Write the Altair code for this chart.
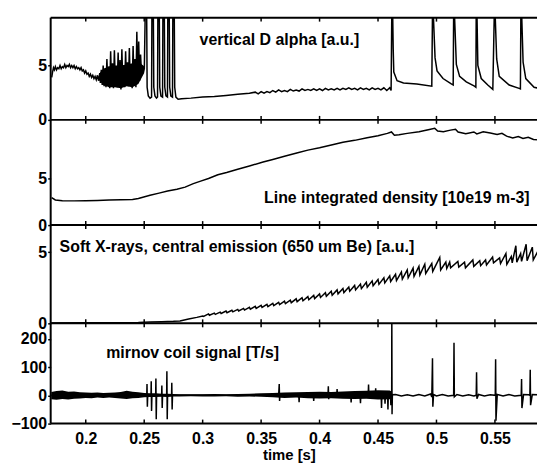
import altair as alt
import pandas as pd

FONT = "Liberation Sans"
x_ticks = [0.2, 0.25, 0.3, 0.35, 0.4, 0.45, 0.5, 0.55]
X_DOMAIN = [0.170, 0.586]
W = 490

# ---------------- vertical D alpha [a.u.] ----------------
dalpha_t = [
    0.1709, 0.1716, 0.1724, 0.1732, 0.1740, 0.1750, 0.1760, 0.1770, 0.1780, 0.1790,
    0.1800, 0.1810, 0.1820, 0.1830, 0.1840, 0.1850, 0.1860, 0.1870, 0.1880, 0.1890,
    0.1900, 0.1910, 0.1920, 0.1930, 0.1940, 0.1950, 0.1960, 0.1970, 0.1980, 0.1990,
    0.2000, 0.2010, 0.2020, 0.2030, 0.2040, 0.2050, 0.2060, 0.2070, 0.2080, 0.2090,
    0.2100, 0.2110, 0.2120,
    0.2125, 0.2133, 0.2141, 0.2149, 0.2157, 0.2165, 0.2173, 0.2181, 0.2189, 0.2197,
    0.2205, 0.2213, 0.2221, 0.2229, 0.2237, 0.2245, 0.2253, 0.2261, 0.2269, 0.2277,
    0.2285, 0.2293, 0.2301, 0.2309, 0.2317, 0.2325, 0.2333, 0.2341, 0.2349, 0.2357,
    0.2365, 0.2373, 0.2381, 0.2389, 0.2397, 0.2405, 0.2413, 0.2421, 0.2429, 0.2437,
    0.2445, 0.2453, 0.2461, 0.2469, 0.2477, 0.2485, 0.2493, 0.2501,
    0.2509, 0.2521, 0.2525, 0.2535, 0.2550, 0.2563,
    0.2566, 0.2578, 0.2582, 0.2592, 0.2605, 0.2614,
    0.2617, 0.2629, 0.2633, 0.2643, 0.2657,
    0.2660, 0.2672, 0.2676, 0.2686, 0.2699,
    0.2702, 0.2714, 0.2718, 0.2728, 0.2742,
    0.2745, 0.2757, 0.2761, 0.2771, 0.2790,
    0.2820, 0.2900, 0.3000, 0.3100, 0.3200, 0.3300, 0.3400, 0.3450, 0.3475, 0.3500,
    0.3525, 0.3550, 0.3575, 0.3600, 0.3625, 0.3650, 0.3675, 0.3700, 0.3725, 0.3750,
    0.3775, 0.3800, 0.3825, 0.3850, 0.3875, 0.3900, 0.3925, 0.3950, 0.3975, 0.4000,
    0.4025, 0.4050, 0.4075, 0.4100, 0.4125, 0.4150, 0.4175, 0.4200, 0.4225, 0.4250,
    0.4275, 0.4300, 0.4325, 0.4350, 0.4375, 0.4400, 0.4425, 0.4450, 0.4475, 0.4500,
    0.4525, 0.4550, 0.4575, 0.4600, 0.4612,
    0.4618, 0.4625, 0.4630, 0.4635, 0.4663, 0.4718, 0.4832, 0.4960,
    0.4966, 0.4972, 0.4988, 0.5005, 0.5056, 0.5127, 0.5143,
    0.5147, 0.5153, 0.5170, 0.5198, 0.5255, 0.5325, 0.5337,
    0.5340, 0.5346, 0.5354, 0.5383, 0.5439, 0.5482,
    0.5495, 0.5501, 0.5515, 0.5537, 0.5622, 0.5707, 0.5718,
    0.5722, 0.5728, 0.5741, 0.5764, 0.5835, 0.5877, 0.5888,
    0.5892, 0.5900,
]
dalpha_v = [
    3.9, 4.4, 4.8, 4.6, 4.9, 4.6, 4.8, 4.7, 5.0, 4.7,
    4.9, 4.8, 5.1, 4.8, 5.0, 4.9, 5.1, 4.8, 5.0, 4.8,
    5.0, 4.7, 4.9, 4.7, 4.8, 4.6, 4.8, 4.5, 4.6, 4.3,
    4.5, 4.2, 4.3, 4.0, 4.2, 3.9, 4.1, 3.8, 4.0, 3.7,
    4.1, 3.6, 4.3,
    3.4, 4.6, 3.2, 5.0, 3.1, 4.7, 3.0, 5.6, 3.3, 4.9,
    2.9, 6.3, 3.2, 5.2, 2.9, 6.4, 3.4, 4.8, 3.0, 6.2,
    3.2, 5.5, 2.8, 6.5, 3.3, 5.0, 3.0, 6.3, 3.4, 5.3,
    3.1, 6.6, 3.2, 5.1, 2.9, 6.8, 3.3, 5.6, 3.0, 8.1,
    3.4, 7.2, 3.6, 6.0, 4.2, 5.0, 4.4, 4.7,
    10, 10, 3.0, 2.2, 2.0, 2.1,
    10, 10, 3.0, 2.2, 2.0, 2.1,
    10, 10, 3.0, 2.2, 2.1,
    10, 10, 3.0, 2.2, 2.1,
    10, 10, 3.0, 2.2, 2.1,
    10, 10, 3.0, 2.1, 1.9,
    1.95, 2.0, 2.1, 2.15, 2.25, 2.35, 2.45, 2.55, 2.4, 2.6,
    2.45, 2.6, 2.5, 2.7, 2.55, 2.75, 2.6, 2.7, 2.6, 2.8,
    2.65, 2.75, 2.65, 2.85, 2.7, 2.8, 2.7, 2.85, 2.7, 2.85,
    2.7, 2.9, 2.75, 2.85, 2.75, 2.9, 2.75, 2.9, 2.8, 2.95,
    2.8, 2.9, 2.75, 2.95, 2.8, 2.9, 2.75, 2.95, 2.8, 2.9,
    2.75, 2.95, 2.7, 2.95, 2.7,
    10, 10, 6.5, 4.4, 3.6, 3.4, 3.3, 3.1,
    10, 10, 5.7, 4.5, 3.8, 3.3, 3.2,
    10, 10, 5.1, 4.0, 3.5, 3.1, 3.0,
    10, 10, 5.0, 3.8, 3.2, 2.8,
    10, 10, 5.6, 4.0, 3.2, 2.9, 2.85,
    10, 10, 5.3, 3.8, 3.0, 2.9, 2.85,
    10, 10,
]
# dense (unresolved) part of the D alpha trace: envelope
dalpha_band_t = [0.2120, 0.2150, 0.2200, 0.2250, 0.2300, 0.2350, 0.2400, 0.2450, 0.2500]
dalpha_band_lo = [3.6, 3.2, 3.0, 3.0, 2.9, 3.1, 3.0, 3.3, 4.3]
dalpha_band_hi = [4.3, 4.7, 4.9, 5.0, 5.0, 5.1, 5.2, 5.4, 4.9]

# ---------------- Line integrated density [10e19 m-3] ----------------
dens_t = [
    0.1708, 0.1740, 0.1800, 0.1900, 0.2000, 0.2100, 0.2200, 0.2300, 0.2400, 0.2450,
    0.2550, 0.2627, 0.2700, 0.2780, 0.2850, 0.2920, 0.2983, 0.3050, 0.3130, 0.3205,
    0.3300, 0.3400, 0.3517, 0.3600, 0.3700, 0.3813, 0.3900, 0.4000, 0.4110, 0.4200,
    0.4300, 0.4407, 0.4500, 0.4580, 0.4615, 0.4640, 0.4680, 0.4750, 0.4851, 0.4930,
    0.4985, 0.5010, 0.5059, 0.5120, 0.5163, 0.5185, 0.5251, 0.5320, 0.5345, 0.5400,
    0.5460, 0.5519, 0.5560, 0.5600, 0.5652, 0.5700, 0.5740, 0.5785, 0.5830, 0.5870,
]
dens_v = [
    2.95, 2.7, 2.62, 2.6, 2.62, 2.65, 2.7, 2.72, 2.75, 2.85,
    3.2, 3.43, 3.65, 3.85, 4.08, 4.45, 4.72, 5.0, 5.4, 5.65,
    6.0, 6.35, 6.77, 7.05, 7.4, 7.77, 8.05, 8.3, 8.63, 8.9,
    9.1, 9.37, 9.6, 9.85, 10.0, 9.65, 9.7, 9.85, 10.03, 10.25,
    10.4, 10.1, 10.03, 10.2, 10.3, 10.0, 9.8, 10.0, 9.8, 10.03,
    9.9, 9.73, 9.85, 9.55, 9.36, 9.5, 9.3, 9.44, 9.2, 9.15,
]

# ---------------- Soft X-rays, central emission ----------------
sxr_t = [
    0.1705, 0.2000, 0.2300, 0.2450, 0.2550, 0.2650, 0.2750, 0.2806, 0.2880, 0.2950, 0.3000,
    0.3008,
    0.3050, 0.3058, 0.3100, 0.3108, 0.3150, 0.3158, 0.3200, 0.3208, 0.3250, 0.3258,
    0.3300, 0.3308, 0.3350, 0.3358, 0.3400, 0.3408, 0.3450, 0.3458, 0.3500, 0.3508,
    0.3550, 0.3558, 0.3600, 0.3608, 0.3650, 0.3658, 0.3700, 0.3708, 0.3750, 0.3758,
    0.3800, 0.3808, 0.3850, 0.3858, 0.3900, 0.3908, 0.3950, 0.3958, 0.4000, 0.4008,
    0.4050, 0.4058, 0.4100, 0.4108, 0.4150, 0.4158, 0.4200, 0.4208, 0.4250, 0.4258,
    0.4300, 0.4308, 0.4350, 0.4358, 0.4400, 0.4408, 0.4450, 0.4458, 0.4500, 0.4508,
    0.4550, 0.4558, 0.4600, 0.4608, 0.4650, 0.4658, 0.4700, 0.4708, 0.4750, 0.4758,
    0.4800, 0.4808, 0.4850, 0.4858, 0.4900, 0.4908, 0.4960, 0.4968, 0.5028, 0.5036,
    0.5080, 0.5088, 0.5113, 0.5121, 0.5183, 0.5191, 0.5240, 0.5248, 0.5311, 0.5319,
    0.5370, 0.5378, 0.5420, 0.5428, 0.5480, 0.5488, 0.5540, 0.5548, 0.5594, 0.5602,
    0.5640, 0.5648, 0.5679, 0.5687, 0.5720, 0.5728, 0.5767, 0.5775, 0.5820, 0.5828,
    0.5870,
]
sxr_v = [
    0.03, 0.04, 0.05, 0.06, 0.1, 0.12, 0.14, 0.17, 0.3, 0.42, 0.52,
    0.48,
    0.66, 0.57, 0.72, 0.63, 0.79, 0.69, 0.86, 0.75, 0.92, 0.81,
    0.98, 0.87, 1.05, 0.93, 1.12, 0.99, 1.19, 1.05, 1.26, 1.12,
    1.33, 1.18, 1.41, 1.25, 1.48, 1.32, 1.56, 1.38, 1.63, 1.45,
    1.72, 1.52, 1.8, 1.59, 1.88, 1.66, 1.96, 1.74, 2.06, 1.82,
    2.15, 1.9, 2.25, 1.98, 2.35, 2.07, 2.45, 2.16, 2.55, 2.26,
    2.66, 2.35, 2.76, 2.44, 2.88, 2.54, 2.98, 2.64, 3.08, 2.74,
    3.2, 2.84, 3.33, 2.94, 3.45, 3.0, 3.6, 3.1, 3.75, 3.2,
    3.88, 3.3, 4.0, 3.4, 4.15, 3.5, 4.2, 3.65, 4.63, 3.75,
    4.3, 3.85, 4.3, 3.9, 4.35, 3.95, 4.3, 3.9, 4.45, 4.0,
    4.4, 4.05, 4.45, 4.1, 4.65, 4.25, 4.6, 4.2, 4.9, 4.15,
    4.7, 4.25, 5.45, 4.3, 4.9, 4.35, 5.55, 4.4, 5.35, 4.45,
    5.1,
]

# ---------------- mirnov coil signal [T/s] ----------------
# envelope of the unresolved fluctuation band
mirnov_band_t = [
    0.1705, 0.1750, 0.1800, 0.1850, 0.1900, 0.1950, 0.2000, 0.2050, 0.2100, 0.2150,
    0.2200, 0.2250, 0.2300, 0.2350, 0.2400, 0.2450, 0.2500, 0.2550, 0.2600, 0.2650,
    0.2700, 0.2750, 0.2800, 0.2900, 0.3000, 0.3100, 0.3200, 0.3300, 0.3400, 0.3500,
    0.3600, 0.3700, 0.3800, 0.3900, 0.4000, 0.4100, 0.4200, 0.4300, 0.4400, 0.4500,
    0.4600, 0.4615,
]
mirnov_band_lo = [
    -14, -16, -13, -15, -12, -11, -9, -10, -8, -9,
    -8, -9, -11, -13, -10, -9, -7, -6, -6, -5,
    -6, -4, -4, -3, -4, -4, -3, -5, -4, -5,
    -7, -9, -8, -10, -11, -10, -12, -13, -12, -15,
    -14, -12,
]
mirnov_band_hi = [
    12, 15, 17, 13, 14, 11, 10, 9, 10, 8,
    9, 10, 12, 16, 13, 11, 8, 7, 7, 6,
    6, 5, 4, 4, 4, 5, 4, 5, 6, 7,
    8, 10, 11, 12, 13, 12, 14, 15, 16, 18,
    17, 14,
]
# resolved spikes on top of the band
mirnov_t = [
    0.1705, 0.2000, 0.2500,
    0.2522, 0.2524, 0.2527, 0.2530,
    0.2558, 0.2560, 0.2563, 0.2566,
    0.2598, 0.2600, 0.2603, 0.2606,
    0.2649, 0.2651, 0.2654, 0.2657,
    0.2692, 0.2694, 0.2697, 0.2700,
    0.2734, 0.2736, 0.2739, 0.2742,
    0.3650, 0.3655, 0.3658, 0.3661,
    0.3822, 0.3825, 0.3828,
    0.3947, 0.3950, 0.3953,
    0.4072, 0.4075, 0.4078, 0.4081,
    0.4147, 0.4150, 0.4153,
    0.4267, 0.4270, 0.4273,
    0.4347, 0.4350, 0.4353,
    0.4416, 0.4419, 0.4422,
    0.4477, 0.4480, 0.4483,
    0.4527, 0.4530, 0.4533,
    0.4557, 0.4560, 0.4563,
    0.4582, 0.4585, 0.4588,
    0.4607, 0.4610, 0.4613,
    0.4617, 0.4618, 0.4620, 0.4623,
    0.4650, 0.4700, 0.4750, 0.4800, 0.4850, 0.4900, 0.4950, 0.4960,
    0.4966, 0.4969, 0.4975, 0.5000, 0.5050, 0.5100, 0.5147,
    0.5150, 0.5153, 0.5175, 0.5225, 0.5275, 0.5320, 0.5340,
    0.5343, 0.5346, 0.5360, 0.5410, 0.5460, 0.5503,
    0.5506, 0.5509, 0.5520, 0.5570, 0.5620, 0.5670, 0.5725,
    0.5728, 0.5731, 0.5745, 0.5790, 0.5799,
    0.5802, 0.5805, 0.5820, 0.5870,
]
mirnov_v = [
    0, 2, 0,
    0, 40, -40, 0,
    0, 50, -55, 0,
    0, 60, -85, 0,
    0, 35, -45, 0,
    0, 85, -85, 0,
    0, 45, -50, 0,
    0, 40, -20, 0,
    0, -24, 0,
    0, -20, 0,
    0, 32, -14, 0,
    0, 22, 0,
    0, -25, 0,
    0, -28, 0,
    0, 38, 0,
    0, 25, 0,
    0, -45, 0,
    0, -30, 0,
    0, -50, 0,
    0, -35, 0,
    0, 300, -67, 2,
    3, -2, 2, -2, 3, -2, 5, -6,
    131, -40, 3, -2, 3, -2, 0,
    186, -5, 3, -2, 2, -2, 0,
    82, -12, 3, -2, 2, 0,
    128, -90, 3, -2, 3, -2, 0,
    58, -45, 3, 2, 0,
    91, -35, 3, 2,
]


def panel(t, v, ydom, yvals, H, label, lx, ly, band=None, first=False, last=False):
    df = pd.DataFrame({"t": t, "v": v, "i": list(range(len(t)))})
    xscale = alt.Scale(domain=X_DOMAIN, nice=False, zero=False)
    yscale = alt.Scale(domain=ydom, nice=False, zero=False)
    if last:
        xaxis = alt.Axis(values=x_ticks, format="~g", ticks=False, domain=False,
                         labelPadding=7, labelFontSize=16,
                         title="time [s]", titleFontSize=15, titleX=240, titleY=24,
                         titleBaseline="top", labelFlush=False, labelOverlap=False)
    else:
        xaxis = alt.Axis(values=x_ticks, labels=False, ticks=False, domain=False,
                         title=None)
    yaxis = alt.Axis(values=yvals, title=None, tickSize=3, tickWidth=1.5,
                     domain=False, labelPadding=1, labelFontSize=16,
                     labelFlush=False, labelOverlap=False)
    X = alt.X("t:Q", scale=xscale, axis=xaxis)
    layers = []
    if band is not None:
        bt, blo, bhi = band
        bdf = pd.DataFrame({"t": bt, "lo": blo, "hi": bhi})
        layers.append(alt.Chart(bdf).mark_area(color="black", clip=True).encode(
            x=X, y=alt.Y("lo:Q", scale=yscale, axis=yaxis), y2="hi:Q"))
    layers.append(alt.Chart(df).mark_line(color="black", strokeWidth=1.5, clip=True).encode(
        x=X, y=alt.Y("v:Q", scale=yscale, axis=yaxis), order="i:Q"))
    tdf = pd.DataFrame({"t": x_ticks})
    layers.append(alt.Chart(tdf).mark_rule(color="black", strokeWidth=1.5).encode(
        x=X, y=alt.value(0), y2=alt.value(4)))
    layers.append(alt.Chart(tdf).mark_rule(color="black", strokeWidth=1.5).encode(
        x=X, y=alt.value(H - 4), y2=alt.value(H)))
    one = pd.DataFrame({"a": [0]})
    # frame: left edge and bottom edge (and top edge for the first panel)
    layers.append(alt.Chart(one).mark_rule(color="black", strokeWidth=2).encode(
        x=alt.value(0), y=alt.value(0), y2=alt.value(H)))
    layers.append(alt.Chart(one).mark_rule(color="black", strokeWidth=2).encode(
        x=alt.value(0), x2=alt.value(W), y=alt.value(H)))
    if first:
        layers.append(alt.Chart(one).mark_rule(color="black", strokeWidth=2).encode(
            x=alt.value(0), x2=alt.value(W), y=alt.value(0)))
    layers.append(alt.Chart(pd.DataFrame({"s": [label]})).mark_text(
        align="left", baseline="middle", font=FONT, fontSize=16, fontWeight="bold",
        color="black").encode(x=alt.value(lx), y=alt.value(ly), text="s:N"))
    return alt.layer(*layers).properties(width=W, height=H)


p1 = panel(dalpha_t, dalpha_v, [0, 9.4], [0, 5], 103,
           "vertical D alpha [a.u.]", 150, 23,
           band=(dalpha_band_t, dalpha_band_lo, dalpha_band_hi), first=True)
p2 = panel(dens_t, dens_v, [0, 11.3], [0, 5], 106,
           "Line integrated density [10e19 m-3]", 215, 79)
p3 = panel(sxr_t, sxr_v, [0, 6.9], [0, 5], 99,
           "Soft X-rays, central emission (650 um Be) [a.u.]", 9, 22)
p4 = panel(mirnov_t, mirnov_v, [-100, 255], [-100, 0, 100, 200], 101,
           "mirnov coil signal [T/s]", 56, 30,
           band=(mirnov_band_t, mirnov_band_lo, mirnov_band_hi), last=True)

chart = alt.vconcat(p1, p2, p3, p4, spacing=0, bounds="flush").properties(
    padding={"left": 2, "top": 7, "right": 0, "bottom": 0}
).configure_view(stroke=None).configure_axis(
    domainColor="black", tickColor="black", labelColor="black",
    labelFont=FONT, labelFontSize=15, labelFontWeight="bold",
    titleFont=FONT, titleFontSize=15, titleFontWeight="bold",
    titleColor="black", grid=False,
)

chart.save("out.html", embed_options={"renderer": "svg", "actions": False})
